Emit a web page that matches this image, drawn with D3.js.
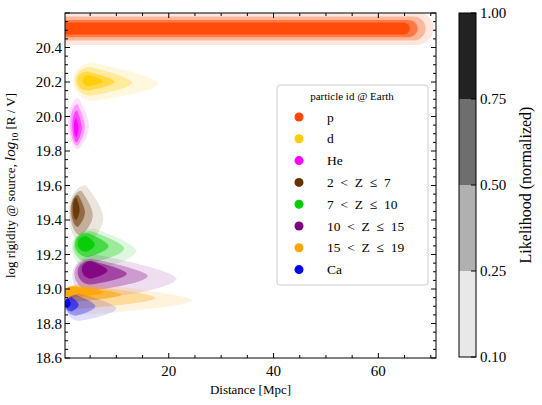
<!DOCTYPE html>
<html><head><meta charset="utf-8">
<script src="https://cdn.jsdelivr.net/npm/d3@7"></script>
<style>body{margin:0;background:#fff}svg{font-family:"Liberation Serif","Times New Roman",serif}</style>
</head><body><svg id="c" width="542" height="405"></svg>
<script>
const species = ["p","d","He","2 < Z ≤ 7","7 < Z ≤ 10","10 < Z ≤ 15","15 < Z ≤ 19","Ca"];
const colors = ["#ff4500","#ffcc00","#ff00ff","#663300","#00cc00","#800080","#ffa500","#0000ff"];
// contour levels per species, outer->inner: [xLeft, xRight, yCenter, halfHeight]
const levels = [
 [[0.2,70.5,20.51,0.095],[0.2,69,20.51,0.07],[0.2,67.5,20.51,0.05],[0.2,66,20.51,0.035]],
 [[1.7,18,20.21,0.12],[2.1,13,20.21,0.09],[2.5,9.7,20.21,0.06],[3.6,7.4,20.21,0.035]],
 [[0.8,4.8,19.97,0.16],[1.2,4.0,19.96,0.13],[1.6,3.4,19.95,0.1],[1.9,2.8,19.94,0.06]],
 [[0.9,7.5,19.44,0.19],[1.2,5.5,19.45,0.14],[1.4,4.0,19.46,0.1],[1.7,3.0,19.47,0.07]],
 [[1.5,13.8,19.24,0.13],[1.8,11.5,19.25,0.1],[2.1,8.5,19.26,0.075],[2.6,5.9,19.265,0.05]],
 [[1.6,21.5,19.08,0.14],[2.0,16,19.09,0.1],[2.6,12,19.1,0.075],[3.4,8.3,19.115,0.055]],
 [[0.2,24.5,18.95,0.1],[0.2,17.5,18.96,0.075],[0.2,11,18.975,0.05],[0.2,7.5,18.985,0.035]],
 [[0.2,10,18.9,0.085],[0.2,6,18.91,0.065],[0.2,2.8,18.915,0.045],[0.2,1.3,18.92,0.03]]
];
const levelOpacity = [0.13,0.3,0.55,0.88];
const xTicks = [20,40,60];
const yTicks = [18.6,18.8,19.0,19.2,19.4,19.6,19.8,20.0,20.2,20.4];
const cbTicks = [0.10,0.25,0.50,0.75,1.00];
const cbColors = ["#e8e8e8","#b0b0b0","#6e6e6e","#222222"];

const svg = d3.select("#c");
const L=65,R=436,T=13,B=358;
const x = d3.scaleLinear().domain([0.2,71]).range([L,R]);
const y = d3.scaleLinear().domain([18.6,20.6]).range([B,T]);

svg.append("clipPath").attr("id","clip").append("rect").attr("x",L).attr("y",T).attr("width",R-L).attr("height",B-T);
const g = svg.append("g").attr("clip-path","url(#clip)");

function blob(lv){
  const [xl,xr,yc,hh]=lv;
  const hpx = y(yc-hh)-y(yc);
  const pxL = x(xl), pxR = x(xr), cy = y(yc);
  const w = pxR-pxL;
  const headR = Math.min(hpx, w*0.5);
  const hx = pxL+headR;
  const pts=[];
  const N=60;
  for(let i=0;i<=N;i++){
    const t=i/N; const px = pxR - t*(pxR-hx);
    const hgt = hpx*Math.pow(t,0.6);
    pts.push([px, cy - hgt*0.85 + (1-t)*hpx*0.15]);
  }
  for(let i=1;i<N;i++){ const a=-Math.PI/2 - Math.PI*i/N;
    pts.push([hx+headR*Math.cos(a), cy - hpx*Math.sin(-a)*(Math.sin(-a)>0?0.85:1) ]);}
  for(let i=0;i<=N;i++){
    const t=1-i/N; const px = pxR - t*(pxR-hx);
    const hgt = hpx*Math.pow(t,0.6);
    pts.push([px, cy + hgt + (1-t)*hpx*0.15]);
  }
  return d3.line().curve(d3.curveCatmullRomClosed)(pts);
}
levels.forEach((sp,i)=>{
  sp.forEach((lv,j)=>{
    if(i===0){ // band-like: rounded capsule
      const [xl,xr,yc,hh]=lv, h=y(yc-hh)-y(yc+hh);
      g.append("rect").attr("x",x(xl)-h).attr("y",y(yc+hh)).attr("width",x(xr)-x(xl)+h).attr("height",h)
        .attr("rx",h/2).attr("fill",colors[i]).attr("fill-opacity",levelOpacity[j]);
    } else
    g.append("path").attr("d",blob(lv)).attr("fill",colors[i]).attr("fill-opacity",levelOpacity[j]);
  });
});

const ax = svg.append("g").attr("stroke","#000").attr("fill","none");
ax.append("rect").attr("x",L).attr("y",T).attr("width",R-L).attr("height",B-T).attr("stroke-width",1);
d3.range(5,71,5).forEach(v=>{const maj=v%20===0, len=maj?5:3;
  ax.append("line").attr("x1",x(v)).attr("x2",x(v)).attr("y1",B).attr("y2",B-len);
  ax.append("line").attr("x1",x(v)).attr("x2",x(v)).attr("y1",T).attr("y2",T+len);});
d3.range(18.6,20.601,0.05).forEach(v=>{const maj=Math.abs(v*5-Math.round(v*5))<1e-6, len=maj?5:3;
  ax.append("line").attr("y1",y(v)).attr("y2",y(v)).attr("x1",L).attr("x2",L+len);
  ax.append("line").attr("y1",y(v)).attr("y2",y(v)).attr("x1",R).attr("x2",R-len);});
xTicks.forEach(v=>svg.append("text").attr("x",x(v)).attr("y",B+18).attr("text-anchor","middle").attr("font-size",15).text(v));
yTicks.forEach(v=>svg.append("text").attr("x",L-3).attr("y",y(v)+5).attr("text-anchor","end").attr("font-size",15).text(v.toFixed(1)));
svg.append("text").attr("x",(L+R)/2).attr("y",394).attr("text-anchor","middle").attr("font-size",13).text("Distance [Mpc]");
const yl = svg.append("text").attr("transform",`translate(15,${(T+B)/2}) rotate(-90)`).attr("text-anchor","middle").attr("font-size",13);
yl.append("tspan").text("log rigidity @ source, ");
yl.append("tspan").attr("font-style","italic").attr("font-size",15).text("log");
yl.append("tspan").attr("font-size",9).attr("dy",3).text("10");
yl.append("tspan").attr("dy",-3).attr("font-size",13).text(" [R / V]");

const lg = svg.append("g");
lg.append("rect").attr("x",277).attr("y",85).attr("width",151).attr("height",200).attr("rx",3).attr("fill","#fff").attr("fill-opacity",0.85).attr("stroke","#ccc");
lg.append("text").attr("x",352).attr("y",100).attr("text-anchor","middle").attr("font-size",11).text("particle id @ Earth");
species.forEach((s,i)=>{const yy=117+i*21.8;
  lg.append("circle").attr("cx",299).attr("cy",yy).attr("r",4.5).attr("fill",colors[i]);
  lg.append("text").attr("x",327).attr("y",yy+4.5).attr("font-size",13.5).attr("xml:space","preserve").text(s.replace(/ /g,"  "));});

const cbY = d3.scaleLinear().domain([0,4]).range([357,13]);
cbColors.forEach((c,i)=>svg.append("rect").attr("x",459).attr("width",17).attr("y",cbY(i+1)).attr("height",cbY(i)-cbY(i+1)).attr("fill",c));
svg.append("rect").attr("x",459).attr("width",17).attr("y",13).attr("height",344).attr("fill","none").attr("stroke","#000");
cbTicks.forEach((v,i)=>{
  svg.append("line").attr("x1",476).attr("x2",471).attr("y1",cbY(i)).attr("y2",cbY(i)).attr("stroke","#000");
  svg.append("text").attr("x",480).attr("y",cbY(i)+5).attr("font-size",15).text(v.toFixed(2));});
svg.append("text").attr("transform",`translate(531,${(13+357)/2}) rotate(-90)`).attr("text-anchor","middle").attr("font-size",16).text("Likelihood (normalized)");
</script></body></html>
